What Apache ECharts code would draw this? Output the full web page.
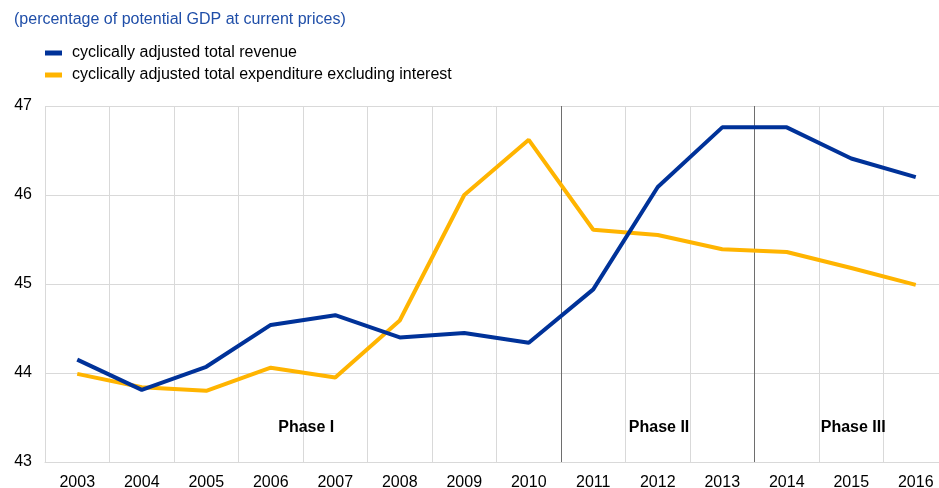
<!DOCTYPE html>
<html>
<head>
<meta charset="utf-8">
<script src="https://cdn.jsdelivr.net/npm/echarts@6/dist/echarts.min.js"></script>
<style>
  html, body { margin: 0; padding: 0; background: #fff; }
  #chart { width: 939px; height: 488px; }
</style>
</head>
<body>
<div id="chart"></div>
<script>
// years on the x axis
const years = ["2003", "2004", "2005", "2006", "2007", "2008", "2009",
  "2010", "2011", "2012", "2013", "2014", "2015", "2016"];
// cyclically adjusted total revenue
const revenue = [44.15, 43.81, 44.07, 44.54, 44.65, 44.40, 44.45,
  44.34, 44.94, 46.09, 46.76, 46.76, 46.41, 46.20];
// cyclically adjusted total expenditure excluding interest
const expenditure = [43.99, 43.84, 43.80, 44.06, 43.95, 44.59, 46.00,
  46.62, 45.61, 45.55, 45.39, 45.36, 45.18, 44.99];
// phase labels: [year position (0 = 2003), y value, text]
const phases = [[3.55, 43.39, "Phase I"], [9.02, 43.39, "Phase II"], [12.03, 43.39, "Phase III"]];
// category boundaries where the phases change (boundary index)
const phaseBreaks = [8, 11];

const font = "Liberation Sans, Arial, sans-serif";
const lightGrey = "#d9d9d9";
const splitColors = [];
for (let i = 0; i <= years.length; i++) {
  splitColors.push(phaseBreaks.indexOf(i) >= 0 ? "#6e6e6e" : lightGrey);
}

const chart = echarts.init(document.getElementById("chart"));
chart.setOption({
  animation: false,
  title: {
    text: "(percentage of potential GDP at current prices)",
    left: 9,
    top: 7,
    textStyle: { color: "#1f4ea8", fontSize: 16, fontWeight: "normal", fontFamily: font },
  },
  legend: {
    orient: "vertical",
    left: 40,
    top: 40,
    itemWidth: 17,
    itemHeight: 5,
    itemGap: 6,
    icon: "rect",
    textStyle: { color: "#000", fontSize: 16, fontFamily: font, padding: [0, 0, 0, 5] },
    data: ["cyclically adjusted total revenue", "cyclically adjusted total expenditure excluding interest"],
  },
  grid: { left: 45, width: 903, top: 106, bottom: 26, outerBoundsMode: "none" },
  xAxis: [
    {
      type: "category",
      data: years,
      boundaryGap: true,
      axisTick: { show: false },
      axisLine: { lineStyle: { color: lightGrey } },
      axisLabel: { color: "#000", fontSize: 16, fontFamily: font, margin: 13 },
      splitLine: { show: true, lineStyle: { color: splitColors, width: 1 } },
    },
    {
      // hidden value axis used only to place the phase labels
      type: "value",
      min: -0.5,
      max: years.length - 0.5,
      show: false,
    },
  ],
  yAxis: {
    type: "value",
    min: 43,
    max: 47,
    interval: 1,
    axisLine: { show: false },
    axisTick: { show: false },
    axisLabel: { color: "#000", fontSize: 16, fontFamily: font, margin: 13, padding: [4, 0, 0, 0] },
    splitLine: { lineStyle: { color: lightGrey } },
  },
  series: [
    {
      name: "cyclically adjusted total revenue",
      type: "line",
      data: revenue,
      showSymbol: false,
      color: "#003299",
      lineStyle: { width: 4 },
      z: 3,
    },
    {
      name: "cyclically adjusted total expenditure excluding interest",
      type: "line",
      data: expenditure,
      showSymbol: false,
      color: "#ffb400",
      lineStyle: { width: 4 },
      z: 2,
    },
    {
      name: "phases",
      type: "scatter",
      xAxisIndex: 1,
      symbolSize: 0,
      silent: true,
      itemStyle: { opacity: 1 },
      data: phases,
      label: {
        show: true,
        position: "inside",
        color: "#000",
        opacity: 1,
        fontSize: 16,
        fontWeight: "bold",
        fontFamily: font,
        formatter: (p) => p.data[2],
      },
    },
  ],
});
</script>
</body>
</html>
